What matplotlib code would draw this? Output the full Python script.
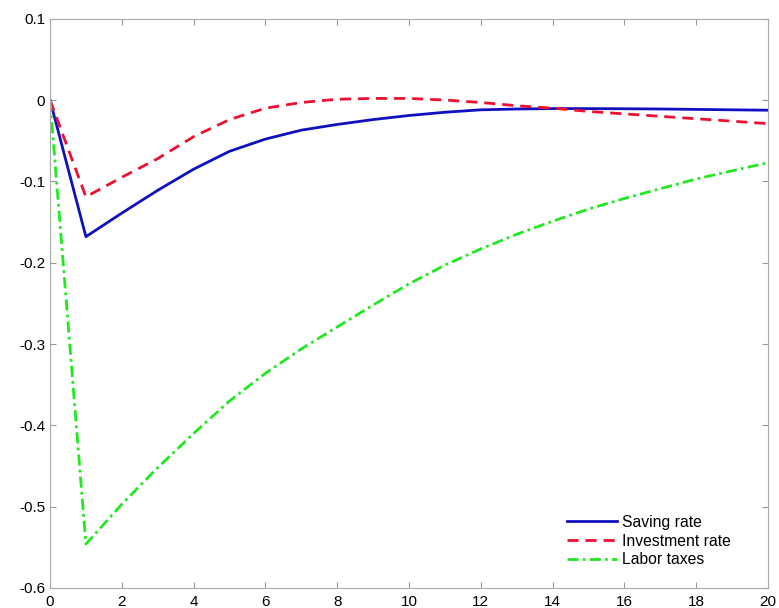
import numpy as np
import matplotlib.pyplot as plt

plt.rcParams['font.family'] = ['Liberation Sans', 'DejaVu Sans']

periods = np.arange(0, 21)
saving_rate = [0, -0.168, -0.139, -0.111, -0.085, -0.063, -0.048, -0.037, -0.030,
               -0.024, -0.019, -0.015, -0.012, -0.011, -0.0105, -0.0105, -0.0107,
               -0.011, -0.0115, -0.012, -0.0125]
investment_rate = [0, -0.119, -0.095, -0.072, -0.045, -0.024, -0.010, -0.003, 0.001,
                   0.002, 0.002, 0.0, -0.003, -0.007, -0.010, -0.014, -0.017,
                   -0.020, -0.023, -0.026, -0.029]
labor_taxes = [0, -0.546, -0.497, -0.452, -0.410, -0.370, -0.336, -0.306, -0.279,
               -0.252, -0.226, -0.203, -0.183, -0.165, -0.149, -0.134, -0.121,
               -0.109, -0.097, -0.087, -0.077]

xticks = np.arange(0, 21, 2)
yticks = [0.1, 0, -0.1, -0.2, -0.3, -0.4, -0.5, -0.6]
ytick_labels = ['0.1', '0', '-0.1', '-0.2', '-0.3', '-0.4', '-0.5', '-0.6']

fig = plt.figure(figsize=(7.79, 6.08), dpi=100)
ax = fig.add_axes([0.0642, 0.0329, 0.9218, 0.9363])

ax.plot(periods, saving_rate, '-', color='#1010c0', lw=2.0, label='Saving rate')
ax.plot(periods, investment_rate, '--', color='#ee1030', lw=2.0,
        dashes=(4, 2.5), label='Investment rate')
ax.plot(periods, labor_taxes, '-.', color='#22e822', lw=2.0,
        dashes=(4, 1.5, 1, 1.5), label='Labor taxes')

ax.set_xlim(0, 20)
ax.set_ylim(-0.6, 0.1)
ax.set_xticks(xticks)
ax.set_xticklabels([str(t) for t in xticks])
ax.set_yticks(yticks)
ax.set_yticklabels(ytick_labels)
ax.tick_params(direction='in', top=True, right=True, length=4, color='#999999',
               labelsize=11, labelcolor='black')
ax.tick_params(axis='x', pad=5)
for s in ax.spines.values():
    s.set_color('#aaaaaa')
    s.set_linewidth(0.8)

ax.legend(loc='lower right', bbox_to_anchor=(0.957, 0.025), borderaxespad=0,
          frameon=False, fontsize=11.3, handlelength=3.2, handletextpad=0.3,
          labelspacing=0.24)

plt.savefig('out.png', dpi=100)
